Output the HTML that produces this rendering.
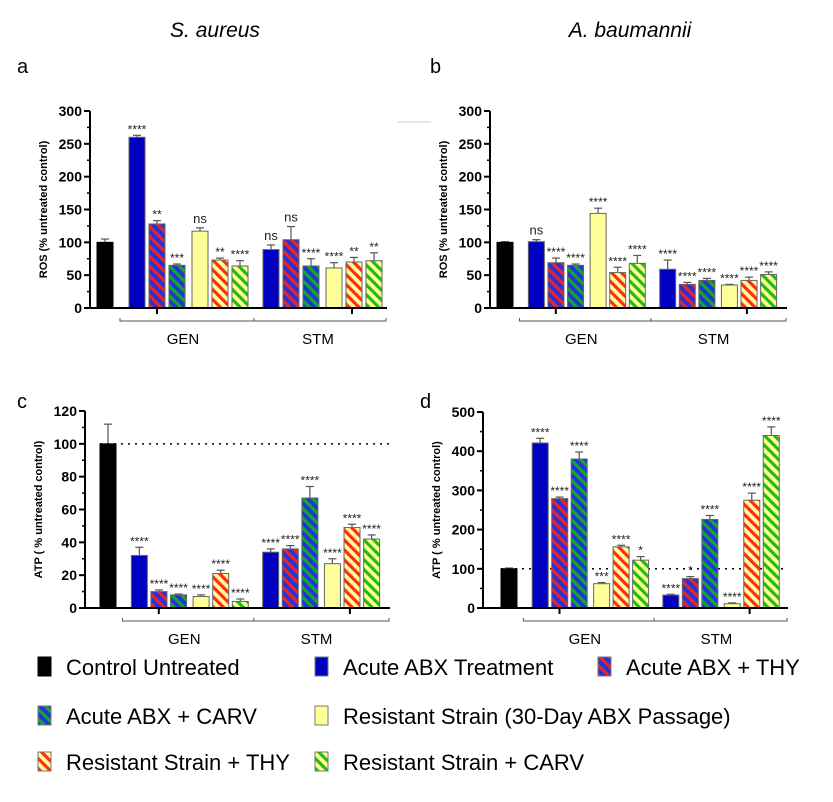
<!DOCTYPE html>
<html><head><meta charset="utf-8"><style>
body{margin:0;background:#fff;}
svg{display:block;font-family:"Liberation Sans",Arial,sans-serif;}
</style></head><body>
<svg id="fig" width="833" height="802" viewBox="0 0 833 802" xmlns="http://www.w3.org/2000/svg">
<defs>
<pattern id="p-bt" patternUnits="userSpaceOnUse" width="7" height="7" patternTransform="rotate(-45)"><rect width="7" height="7" fill="#2233dd"/><rect width="3.2" height="7" fill="#ee2222"/></pattern>
<pattern id="p-bc" patternUnits="userSpaceOnUse" width="7" height="7" patternTransform="rotate(-45)"><rect width="7" height="7" fill="#2233dd"/><rect width="3.2" height="7" fill="#11aa22"/></pattern>
<pattern id="p-yt" patternUnits="userSpaceOnUse" width="7" height="7" patternTransform="rotate(-45)"><rect width="7" height="7" fill="#ffff99"/><rect width="3.2" height="7" fill="#ff2a1a"/></pattern>
<pattern id="p-yc" patternUnits="userSpaceOnUse" width="7" height="7" patternTransform="rotate(-45)"><rect width="7" height="7" fill="#ffff99"/><rect width="3.2" height="7" fill="#22bb11"/></pattern>
</defs>
<text x="215" y="37" font-size="21" font-style="italic" text-anchor="middle">S. aureus</text>
<text x="630" y="37" font-size="21" font-style="italic" text-anchor="middle">A. baumannii</text>
<text x="17" y="73" font-size="20">a</text>
<text x="430" y="73" font-size="20">b</text>
<text x="17" y="408" font-size="20">c</text>
<text x="420" y="408" font-size="20">d</text>
<line x1="398" y1="122" x2="431" y2="122" stroke="#ddd" stroke-width="1.5"/>
<g id="charts"></g>
<g id="legend"></g>
</svg>
<script>
// Panel a: S. aureus ROS
const aValues = [100, 260,128,65,117,73,64, 89,104,64,61,70,72];
const aErrors = [5, 3,5,2,5,3,8, 7,20,11,8,7,12];
const aStars = ["", "****","**","***","ns","**","****", "ns","ns","****","****","**","**"];
// Panel b: A. baumannii ROS
const bValues = [100, 101,69,65,144,54,68, 59,36,42,35,42,51];
const bErrors = [1, 3,7,2,8,8,12, 14,3,3,1,5,4];
const bStars = ["", "ns","****","****","****","****","****", "****","****","****","****","****","****"];
// Panel c: S. aureus ATP
const cValues = [100, 32,10,8,7,21,4, 34,36,67,27,49,42];
const cErrors = [12, 5,1,0.5,1,2,1.5, 2,2,7,3,2,2.5];
const cStars = ["", "****","****","****","****","****","****", "****","****","****","****","****","****"];
// Panel d: A. baumannii ATP
const dValues = [100, 421,279,380,62,156,122, 33,75,226,11,275,440];
const dErrors = [2, 12,4,18,3,4,9, 2,5,10,2,18,22];
const dStars = ["", "****","****","****","***","****","*", "****","*","****","****","****","****"];
const yTicksROS = [0,50,100,150,200,250,300];
const yTicksATPc = [0,20,40,60,80,100,120];
const yTicksATPd = [0,100,200,300,400,500];
const groupLabels = ["GEN","STM"];
const seriesNames = ["Control Untreated","Acute ABX Treatment","Acute ABX + THY","Acute ABX + CARV","Resistant Strain (30-Day ABX Passage)","Resistant Strain + THY","Resistant Strain + CARV"];

const NS="http://www.w3.org/2000/svg";
const fills=["#000","#0000c0","url(#p-bt)","url(#p-bc)","#ffff99","url(#p-yt)","url(#p-yc)"];
const slots=[0,1.6,2.6,3.6,4.75,5.75,6.75,8.3,9.3,10.3,11.45,12.45,13.45];
function mk(tag,attrs,parent){const e=document.createElementNS(NS,tag);for(const k in attrs)e.setAttribute(k,attrs[k]);parent.appendChild(e);return e;}

const panels=[
 {id:"a",vals:aValues,errs:aErrors,stars:aStars,ticks:yTicksROS,max:300,minor:25,ax:90,xend:387,y0:308,ytop:111,x0:97,s:20,bw:16,title:"ROS (% untreated control)",dotted:false},
 {id:"b",vals:bValues,errs:bErrors,stars:bStars,ticks:yTicksROS,max:300,minor:25,ax:490,xend:787,y0:308,ytop:111,x0:497,s:19.6,bw:16,title:"ROS (% untreated control)",dotted:false},
 {id:"c",vals:cValues,errs:cErrors,stars:cStars,ticks:yTicksATPc,max:120,minor:10,ax:85,xend:390,y0:608,ytop:411,x0:100,s:19.6,bw:16,title:"ATP ( % untreated control)",dotted:true},
 {id:"d",vals:dValues,errs:dErrors,stars:dStars,ticks:yTicksATPd,max:500,minor:50,ax:483,xend:788,y0:608,ytop:412,x0:501,s:19.5,bw:16,title:"ATP ( % untreated control)",dotted:true}
];
const root=document.getElementById("charts");
panels.forEach(p=>{
 const g=mk("g",{},root);
 
 
 const y=v=>p.y0-(v/p.max)*(p.y0-p.ytop);
 const x=i=>p.x0+slots[i]*p.s;
 if(p.dotted){const l=mk("line",{x1:p.x0,x2:p.xend,y1:y(100),y2:y(100),stroke:"#000","stroke-width":1.5,"stroke-dasharray":"2,5"},g);
  
  }
 p.vals.forEach((v,i)=>{
  const cx=x(i)+p.bw/2, top=y(v), et=y(v+p.errs[i]);
  const eb=mk("line",{x1:cx,x2:cx,y1:top,y2:et,stroke:"#555","stroke-width":1.2},g);
  mk("line",{x1:cx-4,x2:cx+4,y1:et,y2:et,stroke:"#555","stroke-width":1.2},g);
  
  
  const si=i===0?0:((i-1)%6)+1;
  const r=mk("rect",{x:x(i),y:top,width:p.bw,height:p.y0-top,fill:fills[si],stroke:si===0?"#000":"#666","stroke-width":1},g);
  
  
  if(p.stars[i]){const isNs=p.stars[i]==="ns";
   const t=mk("text",{x:cx,y:et-(isNs?5:2),"font-size":isNs?13:12,"text-anchor":"middle",fill:"#222"},g);
   t.textContent=p.stars[i];
   
   }
 });
 const ya=mk("line",{x1:p.ax,x2:p.ax,y1:p.ytop,y2:p.y0+1,stroke:"#000","stroke-width":2},g);
 
 
 const xa=mk("line",{x1:p.ax-1,x2:p.xend,y1:p.y0,y2:p.y0,stroke:"#000","stroke-width":2},g);
 
 
 for(let v=0;v<=p.max;v+=p.minor){mk("line",{x1:p.ax-3,x2:p.ax,y1:y(v),y2:y(v),stroke:"#000","stroke-width":1.5},g);}
 p.ticks.forEach(v=>{mk("line",{x1:p.ax-6,x2:p.ax,y1:y(v),y2:y(v),stroke:"#000","stroke-width":2},g);
  const t=mk("text",{x:p.ax-8,y:y(v)+5,"font-size":14,"font-weight":"bold","text-anchor":"end"},g);
  t.textContent=v;
  
  });
 [3,12.75].forEach(sl=>{const tx=p.x0+sl*p.s;mk("line",{x1:tx,x2:tx,y1:p.y0,y2:p.y0+6,stroke:"#000","stroke-width":2},g);});
 const yt=mk("text",{x:0,y:0,"font-size":11,"font-weight":"bold","text-anchor":"middle",transform:`translate(${p.ax-43},${(p.y0+p.ytop)/2}) rotate(-90)`},g);
 yt.textContent=p.title;
 
 
 const by=p.y0+13, bx1=p.x0+1.15*p.s, bm=p.x0+7.85*p.s, bx2=p.xend-1;
 const br=mk("path",{d:`M${bx1},${by-3}V${by}H${bx2}V${by-3}M${bm},${by-3}V${by}`,stroke:"#555",fill:"none","stroke-width":1},g);
 
 
 [4.3,11.05].forEach((sl,k)=>{const t=mk("text",{x:p.x0+sl*p.s,y:p.y0+36,"font-size":15,"text-anchor":"middle"},g);
  t.textContent=groupLabels[k];
  
  });
});
const lg=document.getElementById("legend");
const lpos=[[38,667],[315,667],[598,667],[38,716],[315,716],[38,762],[315,762]];
seriesNames.forEach((n,i)=>{
 const [lx,ly]=lpos[i];
 const r=mk("rect",{x:lx,y:ly-10,width:13,height:19,fill:fills[i],stroke:i===0?"#000":"#777","stroke-width":1},lg);
 
 
 const t=mk("text",{x:lx+28,y:ly+8,"font-size":22},lg);
 t.textContent=n;
 
 
});
</script>
</body></html>
